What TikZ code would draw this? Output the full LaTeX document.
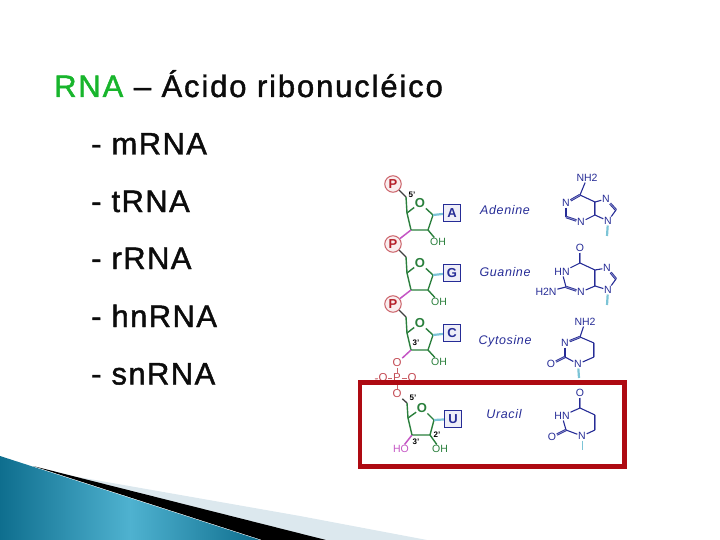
\documentclass[tikz,border=0pt]{standalone}
\usepackage{fontspec}
\setmainfont{Liberation Sans}
\newfontfamily\titlefont[FakeBold=1.4,LetterSpace=6]{Liberation Sans}
\newfontfamily\slidefont[FakeBold=1.4,LetterSpace=4.5]{Liberation Sans}
\newfontfamily\namefont[LetterSpace=5]{Liberation Sans}
\usetikzlibrary{arrows.meta,positioning}
\definecolor{rnagreen}{HTML}{18B52C}
\definecolor{ink}{HTML}{0C0C0C}
\definecolor{ringgreen}{HTML}{2A7F3C}
\definecolor{baseblue}{HTML}{262C96}
\definecolor{tickblue}{HTML}{7CC4D6}
\definecolor{pred}{HTML}{B5202A}
\definecolor{magen}{HTML}{C455C4}
\definecolor{boxred}{HTML}{AE0A12}
\definecolor{tealdark}{HTML}{0E6E8E}
\definecolor{teallight}{HTML}{4FB2D0}
\definecolor{wedge}{HTML}{DCE8EE}
\begin{document}
\begin{tikzpicture}[
  x=1pt,y=-1pt,
  title/.style={anchor=base west,inner sep=0pt,text=ink,font=\titlefont\fontsize{31}{36}\selectfont},
  item/.style={anchor=base west,inner sep=0pt,text=ink,font=\slidefont\fontsize{31}{36}\selectfont},
  phos/.style={circle,draw=pred!70,fill=pred!8,line width=1pt,minimum size=16.5pt,inner sep=0pt,text=pred,font=\fontsize{13}{14}\selectfont\bfseries},
  pox/.style={inner sep=.6pt,text=pred!80,font=\fontsize{11.5}{12}\selectfont},
  lett/.style={draw=baseblue,fill=baseblue!8,line width=1.2pt,minimum size=17pt,inner sep=0pt,text=baseblue,font=\fontsize{13}{14}\selectfont\bfseries},
  sug/.style={inner sep=.6pt,text=ringgreen,font=\fontsize{13}{14}\selectfont\bfseries},
  oh/.style={inner sep=.6pt,text=ringgreen,font=\fontsize{10.5}{11}\selectfont},
  prime/.style={inner sep=0pt,font=\fontsize{8}{9}\selectfont\bfseries},
  basename/.style={inner sep=0pt,text=baseblue,font=\namefont\fontsize{12.5}{14}\selectfont\itshape},
  atom/.style={inner sep=.7pt,text=baseblue,font=\fontsize{10.5}{11}\selectfont},
  ring/.style={draw=ringgreen,line width=1.4pt},
  bond/.style={draw=baseblue,line width=1.1pt},
  dbl/.style={draw=baseblue,double=baseblue!55,double distance=.8pt,line width=.8pt},
  tick/.style={draw=tickblue,line width=2.2pt},
  link/.style={draw=black!75,line width=1.3pt},
  ester/.style={draw=magen,line width=1.5pt},
  pbond/.style={draw=pred!70,line width=1pt}
]
\useasboundingbox (0,0) rectangle (720,540);
\fill[wedge] (78,477) -- (300,516) -- (427,540) -- (262,540) -- cycle;
\coordinate (ca) at (33,466);
\coordinate (cb) at (326,540);
\coordinate (cc) at (262,540);
\fill[black] (ca) -- (cb) -- (cc) -- cycle;
\shade[left color=tealdark,right color=tealdark,middle color=teallight] (0,456) -- (260,540) -- (0,540) -- cycle;
\node[title] (head) at (54,97) {\textcolor{rnagreen}{RNA} – Ácido ribonucléico};
\node[item] (m) at (91,154.5) {- mRNA};
\node[item] (t) at (91,212) {- tRNA};
\node[item] (r) at (91,269) {- rRNA};
\node[item] (hn) at (91,327) {- hnRNA};
\node[item] (sn) at (91,384.5) {- snRNA};
\foreach \y/\bs/\n in {0/A/a,60/G/g,120/C/c}{
  \node[phos] (p\n) at (393,184+\y) {P};
  \node[sug] (o\n) at (420,203+\y) {O};
  \coordinate (r\n) at (433,215+\y);
  \coordinate (lr\n) at (428,230+\y);
  \coordinate (ll\n) at (411,230+\y);
  \coordinate (l\n) at (407,213+\y);
  \coordinate (ch\n) at (406,197+\y);
  \node[lett] (b\n) at (452,213+\y) {\bs};
  \draw[ring] (o\n) -- (r\n) -- (lr\n) -- (ll\n) -- (l\n) -- (o\n);
  \draw[ring] (l\n) -- (ch\n);
  \draw[link] (p\n) -- (ch\n);
  \draw[tick] (r\n) -- (b\n);
}
\node[oh] (oha) at (438,242) {OH};
\node[oh] (ohg) at (439,302) {OH};
\node[oh] (ohc) at (439,362) {OH};
\foreach \n in {a,g,c}{\draw[ring] (lr\n) -- (oh\n);}
\draw[ester] (lla) -- (pg);
\draw[ester] (llg) -- (pc);
\node[prime] (fa) at (412,195) {5'};
\node[prime] (tc) at (416,343) {3'};
\node[pox] (ot) at (397,363) {O};
\node[pox] (pm) at (397,378) {P};
\node[pox] (ol) at (383,378) {O};
\node[pox] (or) at (412,378) {O};
\node[pox] (ob) at (397,394) {O};
\coordinate (dash) at (375,379);
\draw[ester] (llc) -- (ot);
\draw[pbond] (ot) -- (pm);
\draw[pbond] (pm) -- (ob);
\draw[pbond] (ol) -- (pm);
\draw[pbond] (pm) -- (or);
\draw[pbond] (dash) -- (ol);
\node[sug] (ou) at (422,408) {O};
\coordinate (ru) at (434,420);
\coordinate (lru) at (430,435);
\coordinate (llu) at (412,435);
\coordinate (lu) at (408,418);
\coordinate (chu) at (407,403);
\node[lett] (bu) at (453,419) {U};
\node[prime] (fu) at (413,398) {5'};
\node[prime] (tu) at (416,442) {3'};
\node[prime] (du) at (437,435) {2'};
\node[oh,text=magen] (hou) at (401,449) {HO};
\node[oh] (ohu) at (440,449) {OH};
\draw[ring] (ou) -- (ru) -- (lru) -- (llu) -- (lu) -- (ou);
\draw[ring] (lu) -- (chu);
\draw[link] (ob) -- (chu);
\draw[tick] (ru) -- (bu);
\draw[ester] (llu) -- (hou);
\draw[ring] (lru) -- (ohu);
\node[basename] (adn) at (505,210) {Adenine};
\node[basename] (gua) at (505,272) {Guanine};
\node[basename] (cyt) at (505,341) {Cytosine};
\node[basename] (ura) at (504,414) {Uracil};
% adenine
\node[atom] (a6) at (587,178) {NH2};
\coordinate (ac6) at (580,195);
\node[atom] (an1) at (566,203) {N};
\coordinate (ac2) at (566,217);
\node[atom] (an3) at (581,222) {N};
\coordinate (ac4) at (595,215);
\coordinate (ac5) at (595,202);
\node[atom] (an7) at (606,199) {N};
\coordinate (ac8) at (616,210);
\node[atom] (an9) at (608,221) {N};
\coordinate (atk) at (607,236);
\draw[bond] (a6) -- (ac6);
\draw[dbl] (ac6) -- (an1);
\draw[bond] (an1) -- (ac2);
\draw[dbl] (ac2) -- (an3);
\draw[bond] (an3) -- (ac4);
\draw[dbl] (ac4) -- (ac5);
\draw[bond] (ac5) -- (ac6);
\draw[bond] (ac5) -- (an7);
\draw[dbl] (an7) -- (ac8);
\draw[bond] (ac8) -- (an9);
\draw[bond] (an9) -- (ac4);
\draw[tick] (an9) -- (atk);
% guanine
\node[atom] (g6) at (580,248) {O};
\coordinate (gc6) at (580,263);
\node[atom] (gn1) at (562,272) {HN};
\coordinate (gc2) at (566,287);
\node[atom] (g2) at (546,292) {H2N};
\node[atom] (gn3) at (581,292) {N};
\coordinate (gc4) at (595,286);
\coordinate (gc5) at (595,270);
\node[atom] (gn7) at (607,268) {N};
\coordinate (gc8) at (616,279);
\node[atom] (gn9) at (608,290) {N};
\coordinate (gtk) at (607,305);
\draw[dbl] (g6) -- (gc6);
\draw[bond] (gc6) -- (gn1);
\draw[bond] (gn1) -- (gc2);
\draw[bond] (gc2) -- (g2);
\draw[dbl] (gc2) -- (gn3);
\draw[bond] (gn3) -- (gc4);
\draw[dbl] (gc4) -- (gc5);
\draw[bond] (gc5) -- (gc6);
\draw[bond] (gc5) -- (gn7);
\draw[dbl] (gn7) -- (gc8);
\draw[bond] (gc8) -- (gn9);
\draw[bond] (gn9) -- (gc4);
\draw[tick] (gn9) -- (gtk);
% cytosine
\node[atom] (c4) at (585,322) {NH2};
\coordinate (cc4) at (580,337);
\node[atom] (cn3) at (565,343) {N};
\coordinate (cc2) at (565,357);
\node[atom] (co2) at (551,364) {O};
\node[atom] (cn1) at (578,364) {N};
\coordinate (cc6) at (594,357);
\coordinate (cc5) at (594,343);
\coordinate (ctk) at (579,378);
\draw[bond] (c4) -- (cc4);
\draw[dbl] (cc4) -- (cn3);
\draw[bond] (cn3) -- (cc2);
\draw[dbl] (cc2) -- (co2);
\draw[bond] (cc2) -- (cn1);
\draw[bond] (cn1) -- (cc6);
\draw[dbl] (cc6) -- (cc5);
\draw[bond] (cc5) -- (cc4);
\draw[tick] (cn1) -- (ctk);
% uracil
\node[atom] (u4) at (580,393) {O};
\coordinate (uc4) at (580,408);
\node[atom] (un3) at (562,416) {HN};
\coordinate (uc2) at (566,430);
\node[atom] (uo2) at (552,437) {O};
\node[atom] (un1) at (582,436) {N};
\coordinate (uc6) at (595,430);
\coordinate (uc5) at (595,415);
\coordinate (utk) at (582,450);
\draw[dbl] (u4) -- (uc4);
\draw[bond] (uc4) -- (un3);
\draw[bond] (un3) -- (uc2);
\draw[dbl] (uc2) -- (uo2);
\draw[bond] (uc2) -- (un1);
\draw[bond] (un1) -- (uc6);
\draw[dbl] (uc6) -- (uc5);
\draw[bond] (uc5) -- (uc4);
\draw[tick,line width=1pt] (un1) -- (utk);
\draw[boxred,line width=4.5pt] (360,382.5) rectangle (624.5,466.5);
\end{tikzpicture}
\end{document}
